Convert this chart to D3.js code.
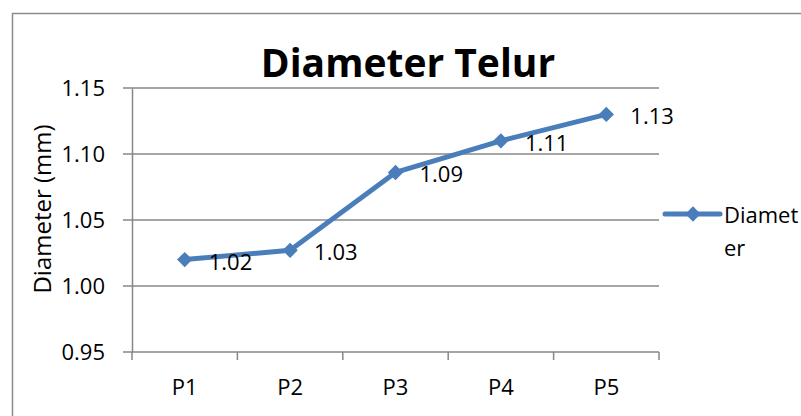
<!DOCTYPE html>
<html>
<head>
<meta charset="utf-8">
<script src="https://cdn.jsdelivr.net/npm/d3@7"></script>
<style>
  body { margin: 0; background: #fff; }
  text { font-family: "Open Sans", sans-serif; fill: #000; }
</style>
</head>
<body>
<svg id="chart" width="801" height="416"></svg>
<script>
var categories = ["P1", "P2", "P3", "P4", "P5"];
var diameter = [1.02, 1.027, 1.086, 1.11, 1.13];
var yTicks = [0.95, 1.00, 1.05, 1.10, 1.15];
var seriesName = "Diameter";

var margin = {top: 88, left: 132},
    width = 659 - 132,
    height = 352 - 88;
var blue = "#4a7ebb", grid = "#878787";

var svg = d3.select("#chart");

// outer frame
svg.append("rect").attr("x", 12.5).attr("y", 13.5).attr("width", 800).attr("height", 420)
  .attr("fill", "none").attr("stroke", "#8c8c8c").attr("stroke-width", 1.5);

var g = svg.append("g").attr("transform", "translate(" + margin.left + "," + margin.top + ")");

var x = d3.scaleBand().domain(categories).range([0, width]);
var y = d3.scaleLinear().domain([0.95, 1.15]).range([height, 0]);

// gridlines
g.selectAll(".grid").data(yTicks).enter().append("line")
  .attr("x1", -9).attr("x2", width)
  .attr("y1", function(d) { return y(d); }).attr("y2", function(d) { return y(d); })
  .attr("stroke", grid).attr("stroke-width", 1.5);

// y axis
var yAxis = g.append("g").call(d3.axisLeft(y).tickValues(yTicks).tickFormat(d3.format(".2f")).tickSize(0).tickPadding(27));
yAxis.select(".domain").attr("stroke", grid).attr("stroke-width", 1.5);
yAxis.selectAll("text").style("font-size", "22px");

// x axis
var xAxis = g.append("g").attr("transform", "translate(0," + height + ")")
  .call(d3.axisBottom(x).tickSize(0).tickPadding(0));
xAxis.select(".domain").remove();
xAxis.selectAll("text").attr("dy", null).attr("y", 43).style("font-size", "22px");
g.append("g").selectAll("line").data(d3.range(categories.length + 1)).enter().append("line")
  .attr("x1", function(i) { return i * x.bandwidth(); }).attr("x2", function(i) { return i * x.bandwidth(); })
  .attr("y1", height).attr("y2", height + 8)
  .attr("stroke", grid).attr("stroke-width", 1.5);

var cx = function(d, i) { return x(categories[i]) + x.bandwidth() / 2; };

// line
var line = d3.line().x(cx).y(function(d) { return y(d); });
g.append("path").datum(diameter).attr("d", line)
  .attr("fill", "none").attr("stroke", blue).attr("stroke-width", 5).attr("stroke-linejoin", "round");

var diamond = d3.symbol().type(d3.symbolDiamond2).size(150);
g.selectAll(".pt").data(diameter).enter().append("path")
  .attr("d", diamond)
  .attr("transform", function(d, i) { return "translate(" + cx(d, i) + "," + y(d) + ")"; })
  .attr("fill", blue);

// data labels
g.selectAll(".lbl").data(diameter).enter().append("text")
  .attr("x", function(d, i) { return cx(d, i) + 24; })
  .attr("y", function(d) { return y(d) + 10; })
  .style("font-size", "22px")
  .text(function(d) { return d3.format(".2f")(d); });

// y title
svg.append("text").attr("transform", "translate(51,209) rotate(-90)")
  .attr("text-anchor", "middle").style("font-size", "24px").text("Diameter (mm)");

// title
svg.append("text").attr("x", 408).attr("y", 77).attr("text-anchor", "middle")
  .style("font-size", "39px").style("font-weight", "bold").text("Diameter Telur");

// legend
var lg = svg.append("g").attr("transform", "translate(665,214)");
lg.append("line").attr("x1", 0).attr("x2", 55).attr("stroke", blue).attr("stroke-width", 5).attr("stroke-linecap", "round");
lg.append("path").attr("d", diamond).attr("transform", "translate(28,0)").attr("fill", blue);
lg.append("text").attr("x", 59).attr("y", 9).style("font-size", "22px").text(seriesName.slice(0, 6));
lg.append("text").attr("x", 59).attr("y", 42).style("font-size", "22px").text(seriesName.slice(6));
</script>
</body>
</html>
